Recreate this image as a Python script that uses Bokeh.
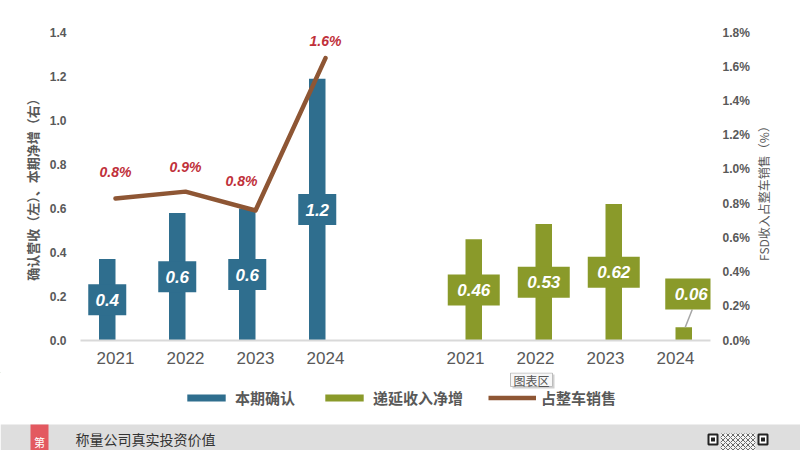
from bokeh.plotting import figure
from bokeh.layouts import column, row
from bokeh.models import (Range1d, LinearAxis, FixedTicker, PrintfTickFormatter,
                          CustomJSTickFormatter, Legend, LegendItem)
from bokeh.core.properties import value
from bokeh.embed import file_html
from bokeh.resources import INLINE
import math

# ---------------- data ----------------
years = ["2021", "2022", "2023", "2024"]
recognized = [0.37, 0.58, 0.60, 1.19]            # 本期确认 (left axis)
recognized_labels = ["0.4", "0.6", "0.6", "1.2"]
deferred_increase = [0.46, 0.53, 0.62, 0.06]     # 递延收入净增 (left axis)
deferred_labels = ["0.46", "0.53", "0.62", "0.06"]
fsd_share_pct = [0.83, 0.87, 0.76, 1.65]         # 占整车销售 (right axis, %)
fsd_share_labels = ["0.8%", "0.9%", "0.8%", "1.6%"]
left_ticks = [0.0, 0.2, 0.4, 0.6, 0.8, 1.0, 1.2, 1.4]
right_ticks = [0.0, 0.2, 0.4, 0.6, 0.8, 1.0, 1.2, 1.4, 1.6, 1.8]
series_names = ["本期确认", "递延收入净增", "占整车销售"]
left_axis_title = "确认营收（左）、本期净增（右）"
right_axis_title = "FSD收入占整车销售（%）"
footer_badge = "第"
footer_title = "称量公司真实投资价值"
tooltip_text = "图表区"

# ---------------- styling / layout ----------------
W = 800
W1 = 756                 # main chart width; the rest holds the right axis title
H1, H2 = 372, 78
BL, BR, BT, BB = 80, W1 - 710, 32, 32
BLUE = "#2F6E8E"
GREEN = "#8A9A2A"
BROWN = "#8E5634"
RED = "#C0303A"
GRAY = "#595959"
n = len(years)
slots = n * 2 + 1
px_x = (W1 - BL - BR) / slots
px_y = (H1 - BT - BB) / left_ticks[-1]
bar_w = 16.5 / px_x
off = bar_w / 2

slot_labels = years + [""] + years
blue_x = [i + 0.5 - off for i in range(n)]
green_x = [i + n + 1 + 0.5 + off for i in range(n)]
line_x = [i + 0.5 for i in range(n)]

p = figure(width=W1, height=H1, output_backend="svg", toolbar_location=None,
           x_range=Range1d(0, slots), y_range=Range1d(0, left_ticks[-1]),
           min_border_left=BL, min_border_right=BR, min_border_top=BT, min_border_bottom=BB)
p.extra_y_ranges = {"pct": Range1d(0, right_ticks[-1])}
p.outline_line_color = None
p.xgrid.visible = False
p.ygrid.visible = False
p.background_fill_color = "white"
p.border_fill_color = "white"

# axes
p.xaxis.ticker = FixedTicker(ticks=[i + 0.5 for i in range(slots) if slot_labels[i]])
p.xaxis.formatter = CustomJSTickFormatter(args=dict(labels=slot_labels),
                                          code="const i = Math.round(tick - 0.5); return labels[i] || '';")
p.xaxis.axis_line_color = "#D9D9D9"
p.xaxis.axis_line_width = 2
p.xaxis.major_tick_line_color = None
p.xaxis.minor_tick_line_color = None
p.xaxis.major_tick_out = 0
p.xaxis.major_tick_in = 0
p.xaxis.major_label_text_font = "Liberation Sans"
p.xaxis.major_label_text_font_size = "17px"
p.xaxis.major_label_text_color = GRAY
p.xaxis.major_label_standoff = 11

p.yaxis.ticker = FixedTicker(ticks=left_ticks)
p.yaxis.formatter = PrintfTickFormatter(format="%.1f")
p.yaxis.axis_line_color = None
p.yaxis.major_tick_line_color = None
p.yaxis.minor_tick_line_color = None
p.yaxis.major_tick_out = 0
p.yaxis.major_tick_in = 0
p.yaxis.major_label_text_font = "Liberation Sans"
p.yaxis.major_label_text_font_style = "bold"
p.yaxis.major_label_text_font_size = "12px"
p.yaxis.major_label_text_color = GRAY
p.yaxis.major_label_standoff = 14
p.yaxis.axis_label = left_axis_title
p.yaxis.axis_label_text_font = "Noto Sans CJK SC"
p.yaxis.axis_label_text_font_style = "bold"
p.yaxis.axis_label_text_font_size = "13px"
p.yaxis.axis_label_text_color = GRAY
p.yaxis.axis_label_standoff = 5

ry = LinearAxis(y_range_name="pct", ticker=FixedTicker(ticks=right_ticks),
                formatter=PrintfTickFormatter(format="%.1f%%"))
ry.axis_line_color = None
ry.major_tick_line_color = None
ry.minor_tick_line_color = None
ry.major_tick_out = 0
ry.major_tick_in = 0
ry.major_label_text_font = "Liberation Sans"
ry.major_label_text_font_style = "bold"
ry.major_label_text_font_size = "12px"
ry.major_label_text_color = GRAY
ry.major_label_standoff = 12
p.add_layout(ry, "right")

# bars
r_blue = p.vbar(x=blue_x, top=recognized, width=bar_w, fill_color=BLUE, line_color=None)
r_green = p.vbar(x=green_x, top=deferred_increase, width=bar_w, fill_color=GREEN, line_color=None)

# data label boxes (blue, centered)
blue_ly = [v / 2 for v in recognized]
p.rect(x=blue_x, y=blue_ly, width=[12 * len(t) + 2 for t in recognized_labels], height=31,
       width_units="screen", height_units="screen", fill_color=BLUE, line_color=None)
p.text(x=blue_x, y=blue_ly, text=recognized_labels, text_color="white",
       text_font=value("Liberation Sans"), text_font_style="bold italic", text_font_size="17px",
       text_align="center", text_baseline="middle")

# green labels (last one moved up with a leader line)
nudge_px = {3: (7.5, 40)}
green_lx = [x + nudge_px.get(i, (0, 0))[0] / px_x for i, x in enumerate(green_x)]
green_ly = [v / 2 + nudge_px.get(i, (0, 0))[1] / px_y for i, v in enumerate(deferred_increase)]
for i in nudge_px:
    p.segment(x0=[green_x[i] + 1.5 / px_x], y0=[deferred_increase[i]],
              x1=[green_lx[i] + 1 / px_x], y1=[green_ly[i] - 15.5 / px_y],
              line_color="#A6A6A6", line_width=1.5)
p.rect(x=green_lx, y=green_ly, width=[13 * len(t) for t in deferred_labels], height=31,
       width_units="screen", height_units="screen", fill_color=GREEN, line_color=None)
p.text(x=green_lx, y=green_ly, text=deferred_labels, text_color="white",
       text_font=value("Liberation Sans"), text_font_style="bold italic", text_font_size="17px",
       text_align="center", text_baseline="middle")

# line on right axis
r_line = p.line(x=line_x, y=fsd_share_pct, y_range_name="pct", line_color=BROWN,
                line_width=4.5, line_join="round", line_cap="round")
p.text(x=line_x, y=fsd_share_pct, y_range_name="pct", text=fsd_share_labels,
       x_offset=[0, 0, -14, 0], y_offset=[-26, -25, -29, -17], text_color=RED,
       text_font=value("Liberation Sans"), text_font_style="bold italic", text_font_size="14px",
       text_align="center", text_baseline="middle")

# ---------------- right strip: right axis title (reads bottom to top) ----------------
t = figure(width=W - W1, height=H1, output_backend="svg", toolbar_location=None,
           x_range=Range1d(W1, W), y_range=Range1d(H1, 0),
           x_axis_type=None, y_axis_type=None,
           min_border_left=0, min_border_right=0, min_border_top=0, min_border_bottom=0)
t.outline_line_color = None
t.grid.visible = False
t.background_fill_color = "white"
t.border_fill_color = "white"
t.text(x=[763], y=[190], text=[right_axis_title], angle=math.pi / 2,
       text_font=value("Noto Sans CJK SC"), text_font_size="12px", text_color=GRAY,
       text_align="center", text_baseline="middle")

# ---------------- lower strip: legend, tooltip, footer ----------------
q = figure(width=W, height=H2, output_backend="svg", toolbar_location=None,
           x_range=Range1d(0, W), y_range=Range1d(H1 + H2, H1),
           x_axis_type=None, y_axis_type=None,
           min_border_left=0, min_border_right=0, min_border_top=0, min_border_bottom=0)
q.outline_line_color = None
q.grid.visible = False
q.background_fill_color = "white"
q.border_fill_color = "white"
for fig in (p, t, q):
    if "frame_align" in fig.properties():
        fig.frame_align = False

# legend keys: one sample each, placed beyond the visible strip
lg_blue = q.vbar(x=[-50], top=[0], width=1, fill_color=BLUE, line_color=None)
lg_green = q.vbar(x=[-50], top=[0], width=1, fill_color=GREEN, line_color=None)
lg_line = q.line(x=[-60, -50], y=[0, 0], line_color=BROWN, line_width=4.5)

legend = Legend(items=[LegendItem(label=series_names[0], renderers=[lg_blue]),
                       LegendItem(label=series_names[1], renderers=[lg_green]),
                       LegendItem(label=series_names[2], renderers=[lg_line])],
                orientation="horizontal", location=(182, 42),
                label_text_font="Noto Sans CJK SC", label_text_font_style="bold",
                label_text_font_size="15px", label_text_color=GRAY,
                glyph_width=48, glyph_height=9, label_standoff=5, spacing=25,
                border_line_color=None, background_fill_alpha=0, padding=2, margin=0)
q.add_layout(legend, "center")

# "图表区" tooltip
q.quad(left=[512], right=[554], top=[374], bottom=[388], fill_color="#D0D0D0", line_color=None)
q.quad(left=[510], right=[552], top=[372.5], bottom=[386], fill_color="#F7F7F7",
       line_color="#BDBDBD", line_width=1)
q.text(x=[531], y=[379.5], text=[tooltip_text], text_font=value("Noto Sans CJK SC"),
       text_font_size="12px", text_color="#555555", text_align="center", text_baseline="middle")

# footer band
q.quad(left=[0], right=[W], top=[424], bottom=[H1 + H2], fill_color="#DEDEDE", line_color=None)
q.quad(left=[30], right=[48], top=[424], bottom=[H1 + H2], fill_color="#E35960", line_color=None)
q.text(x=[39], y=[441], text=[footer_badge], text_font=value("Noto Sans CJK SC"),
       text_font_size="11px", text_color="white", text_align="center", text_baseline="middle")
q.text(x=[75], y=[438.5], text=[footer_title], text_font=value("Noto Sans CJK SC"),
       text_font_size="14px", text_color="#333333", text_align="left", text_baseline="middle")
q.quad(left=[720], right=[755], top=[433], bottom=[H1 + H2], fill_color="#F4F4F4",
       line_color=None, hatch_pattern="x", hatch_color="#444444", hatch_scale=5, hatch_alpha=0.8)
q.quad(left=[708, 758], right=[717, 767], top=[434, 434], bottom=[444, 444],
       fill_color="white", line_color="#222222", line_width=2)
q.quad(left=[710.5, 760.5], right=[714.5, 764.5], top=[437, 437], bottom=[441, 441],
       fill_color="#222222", line_color=None)

layout = column(row(p, t, spacing=0), q, spacing=0)
open("out.html", "w").write(file_html(layout, INLINE))
